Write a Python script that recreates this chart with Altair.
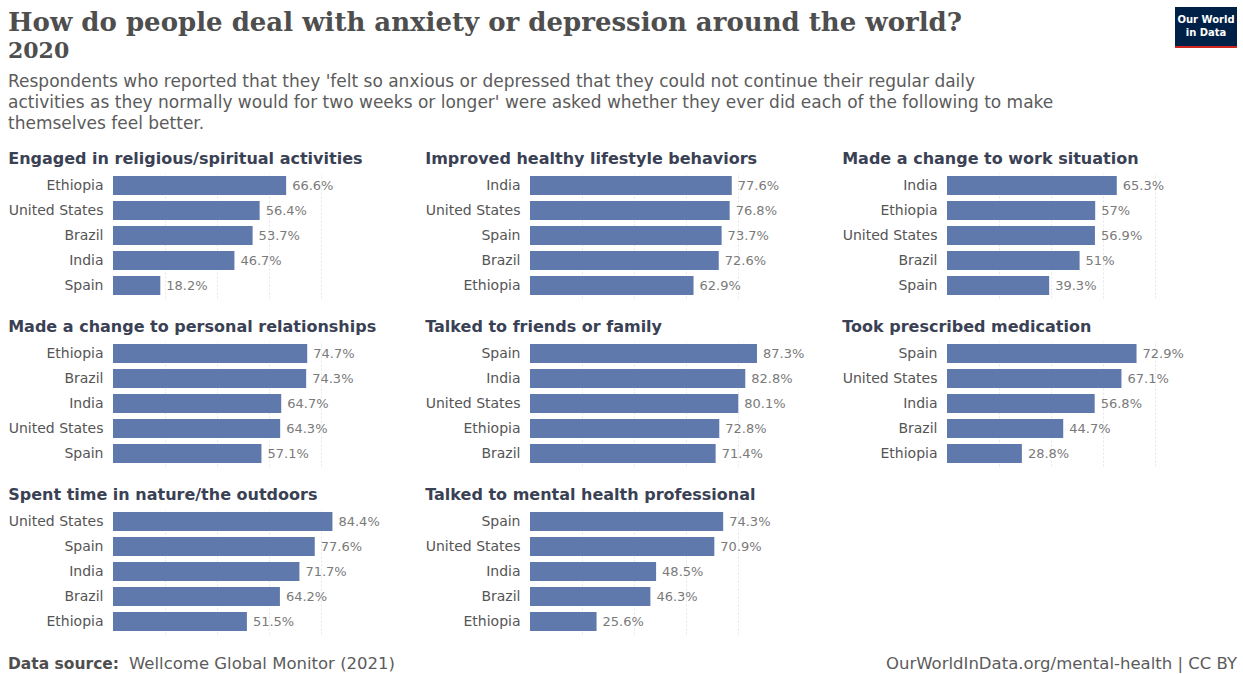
import altair as alt
import pandas as pd

# ---- data ----
questions = [
    "Engaged in religious/spiritual activities",
    "Improved healthy lifestyle behaviors",
    "Made a change to work situation",
    "Made a change to personal relationships",
    "Talked to friends or family",
    "Took prescribed medication",
    "Spent time in nature/the outdoors",
    "Talked to mental health professional",
]
countries = ["Brazil", "Ethiopia", "India", "Spain", "United States"]
brazil = [53.7, 72.6, 51.0, 74.3, 71.4, 44.7, 64.2, 46.3]
ethiopia = [66.6, 62.9, 57.0, 74.7, 72.8, 28.8, 51.5, 25.6]
india = [46.7, 77.6, 65.3, 64.7, 82.8, 56.8, 71.7, 48.5]
spain = [18.2, 73.7, 39.3, 57.1, 87.3, 72.9, 77.6, 74.3]
united_states = [56.4, 76.8, 56.9, 64.3, 80.1, 67.1, 84.4, 70.9]

title_text = "How do people deal with anxiety or depression around the world?"
year_text = "2020"
desc_lines = [
    "Respondents who reported that they 'felt so anxious or depressed that they could not continue their regular daily",
    "activities as they normally would for two weeks or longer' were asked whether they ever did each of the following to make",
    "themselves feel better.",
]
source_label = "Data source:"
source_text = "Wellcome Global Monitor (2021)"
credit_text = "OurWorldInData.org/mental-health | CC BY"

series = {
    "Brazil": brazil,
    "Ethiopia": ethiopia,
    "India": india,
    "Spain": spain,
    "United States": united_states,
}

rows = []
for qi, q in enumerate(questions):
    for c in countries:
        rows.append({"question": q, "country": c, "value": series[c][qi]})
df = pd.DataFrame(rows)

BAR = "#6079ad"
SANS = "DejaVu Sans"
SERIF = "DejaVu Serif"
OFF = 105          # width taken by the country labels left of each plot
HW = 1124          # header / footer width (from the plot origin)

# ---- panels ----
panels = []
for q in questions:
    d = df[df["question"] == q]
    base = alt.Chart(d).transform_calculate(
        label="datum.value + '%'"
    ).encode(
        y=alt.Y(
            "country:N",
            sort=alt.EncodingSortField(field="value", order="descending"),
            scale=alt.Scale(paddingInner=0.24, paddingOuter=0.12),
            axis=alt.Axis(
                title=None, ticks=False, domain=False, labelPadding=10,
                labelFont=SANS, labelFontSize=14, labelColor="#555555",
            ),
        ),
        x=alt.X(
            "value:Q",
            scale=alt.Scale(domain=[0, 100]),
            axis=alt.Axis(
                title=None, labels=False, ticks=False, domain=False,
                grid=True, values=[20, 40, 60, 80], gridColor="#e6e6e6",
                gridDash=[2, 2],
            ),
        ),
    )
    bars = base.mark_bar(color=BAR)
    labels = base.mark_text(
        align="left", dx=6, font=SANS, fontSize=13, color="#7a7a7a"
    ).encode(text="label:N")
    panel = alt.layer(bars, labels).properties(
        width=260,
        height=125,
        title=alt.TitleParams(
            q, anchor="start", frame="bounds", font=SANS, fontSize=16,
            fontWeight="bold", color="#3a4154", offset=6,
        ),
    )
    panels.append(panel)

grid = alt.concat(*panels, columns=3, spacing={"row": 43, "column": 157}).properties(
    bounds="flush"
)

# ---- header ----
one = pd.DataFrame({"k": [0]})
hbase = alt.Chart(one)
h_title = hbase.mark_text(
    align="left", baseline="alphabetic", font=SERIF, fontSize=26,
    fontWeight="bold", color="#4e4e4e", text=title_text,
).encode(x=alt.value(-OFF), y=alt.value(31))
h_year = hbase.mark_text(
    align="left", baseline="alphabetic", font=SERIF, fontSize=22,
    fontWeight="bold", color="#4e4e4e", text=year_text,
).encode(x=alt.value(-OFF), y=alt.value(58))
h_desc = [
    hbase.mark_text(
        align="left", baseline="alphabetic", font=SANS, fontSize=17,
        color="#5b5b5b", text=line,
    ).encode(x=alt.value(-OFF), y=alt.value(87 + 21 * i))
    for i, line in enumerate(desc_lines)
]
logo_box = hbase.mark_rect(color="#002147").encode(
    x=alt.value(HW - 62), x2=alt.value(HW), y=alt.value(7), y2=alt.value(46)
)
logo_red = hbase.mark_rect(color="#ce261e").encode(
    x=alt.value(HW - 62), x2=alt.value(HW), y=alt.value(46), y2=alt.value(48)
)
logo_t1 = hbase.mark_text(
    align="center", baseline="middle", font=SANS, fontSize=10,
    fontWeight="bold", color="white", text="Our World",
).encode(x=alt.value(HW - 31), y=alt.value(20))
logo_t2 = hbase.mark_text(
    align="center", baseline="middle", font=SANS, fontSize=10,
    fontWeight="bold", color="white", text="in Data",
).encode(x=alt.value(HW - 31), y=alt.value(33))
header = alt.layer(
    h_title, h_year, *h_desc, logo_box, logo_red, logo_t1, logo_t2
).properties(width=HW, height=138)

# ---- footer ----
f1 = hbase.mark_text(
    align="left", baseline="middle", font=SANS, fontSize=15.5,
    fontWeight="bold", color="#4e4e4e", text=source_label,
).encode(x=alt.value(-OFF), y=alt.value(17))
f2 = hbase.mark_text(
    align="left", baseline="middle", font=SANS, fontSize=16.5,
    color="#5b5b5b", text=source_text,
).encode(x=alt.value(-OFF + 121), y=alt.value(17))
f3 = hbase.mark_text(
    align="right", baseline="middle", font=SANS, fontSize=16.5,
    color="#5b5b5b", text=credit_text,
).encode(x=alt.value(HW), y=alt.value(17))
footer = alt.layer(f1, f2, f3).properties(width=HW, height=27)

chart = alt.concat(
    header, grid, footer, columns=1, spacing=13
).properties(
    padding={"left": 8, "top": 0, "right": 4, "bottom": 0},
    background="white",
).configure_view(stroke=None)

chart.save("out.html", embed_options={"renderer": "svg", "actions": False})
